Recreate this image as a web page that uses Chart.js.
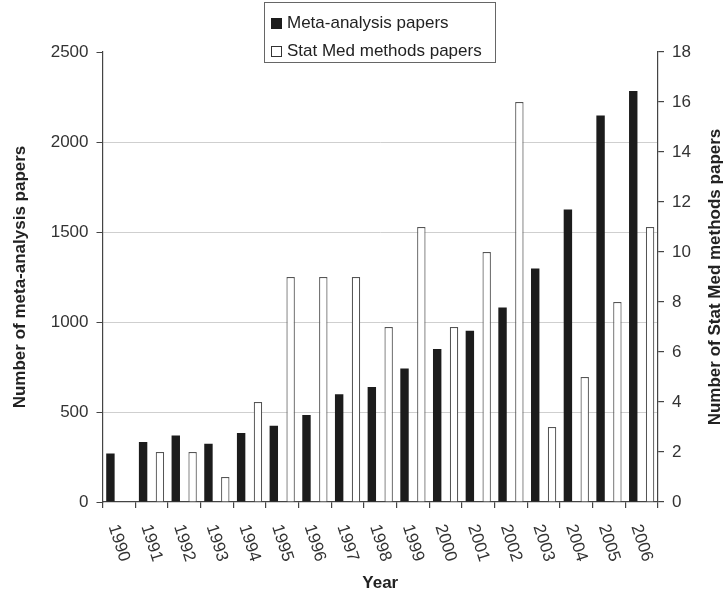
<!DOCTYPE html>
<html lang="en">
<head>
  <meta charset="utf-8">
  <title>Meta-analysis papers vs Stat Med methods papers</title>
  <script src="https://cdn.jsdelivr.net/npm/chart.js@4.4.1/dist/chart.umd.min.js"></script>
  <style>
    html, body { margin: 0; padding: 0; background: #fff; }
    #wrap { width: 725px; height: 591px; }
  </style>
</head>
<body>
  <div id="wrap"><canvas id="chart" width="725" height="591"></canvas></div>
  <script>
    const years = ['1990', '1991', '1992', '1993', '1994', '1995', '1996', '1997', '1998',
                   '1999', '2000', '2001', '2002', '2003', '2004', '2005', '2006'];
    const metaPapers = [270, 333, 370, 324, 383, 424, 483, 598, 639, 741, 850, 951, 1080, 1297, 1625, 2147, 2284];
    const statMedPapers = [0, 2, 2, 1, 4, 9, 9, 9, 7, 11, 7, 10, 16, 3, 5, 8, 11];
    const leftTicks = [0, 500, 1000, 1500, 2000, 2500];
    const rightTicks = [0, 2, 4, 6, 8, 10, 12, 14, 16, 18];

    const FONT = '"Liberation Sans", Arial, Helvetica, sans-serif';
    const AXIS = '#444';

    // x tick labels (rotated clockwise), axis titles and the boxed legend
    const overlay = {
      id: 'overlay',
      afterDraw(chart) {
        const { ctx, chartArea: a, scales: { x } } = chart;
        ctx.save();
        ctx.textAlign = 'center';
        ctx.textBaseline = 'middle';

        ctx.font = '17px ' + FONT;
        ctx.fillStyle = '#333';
        years.forEach((yr, i) => {
          ctx.save();
          ctx.translate(x.getPixelForValue(i), 543);
          ctx.rotate(72 * Math.PI / 180);
          ctx.fillText(yr, 0, 0);
          ctx.restore();
        });

        ctx.font = 'bold 17px ' + FONT;
        ctx.fillStyle = '#222';
        ctx.fillText('Year', (a.left + a.right) / 2, 583);
        const midY = (a.top + a.bottom) / 2;
        [[20, 'Number of meta-analysis papers'], [715, 'Number of Stat Med methods papers']].forEach(([cx, t]) => {
          ctx.save();
          ctx.translate(cx, midY);
          ctx.rotate(-Math.PI / 2);
          ctx.fillText(t, 0, 0);
          ctx.restore();
        });

        // legend box
        ctx.strokeStyle = '#666';
        ctx.lineWidth = 1;
        ctx.strokeRect(264.5, 2.5, 231, 60);
        ctx.font = '17px ' + FONT;
        ctx.textAlign = 'left';
        chart.data.datasets.forEach((ds, i) => {
          const cy = 23 + i * 28;
          ctx.fillStyle = ds.backgroundColor;
          ctx.fillRect(271, cy - 5, 11, 11);
          if (ds.borderWidth) {
            ctx.strokeStyle = '#333';
            ctx.strokeRect(271.5, cy - 4.5, 10, 10);
          }
          ctx.fillStyle = '#222';
          ctx.fillText(ds.label, 287, cy);
        });
        ctx.restore();
      }
    };

    new Chart(document.getElementById('chart'), {
      type: 'bar',
      data: {
        labels: years,
        datasets: [
          { label: 'Meta-analysis papers', data: metaPapers, yAxisID: 'y',
            backgroundColor: '#1c1c1c', borderWidth: 0 },
          { label: 'Stat Med methods papers', data: statMedPapers, yAxisID: 'y2',
            backgroundColor: '#ffffff', borderColor: '#555', borderWidth: 1.2 }
        ]
      },
      options: {
        responsive: false,
        animation: false,
        events: [],
        categoryPercentage: 1.03,
        barPercentage: 0.5,
        layout: { padding: { top: 52, left: 0, right: 0, bottom: 0 } },
        plugins: { legend: { display: false }, tooltip: { enabled: false } },
        scales: {
          x: {
            offset: true,
            grid: { offset: true, drawOnChartArea: false, drawTicks: true, tickLength: 6, tickColor: AXIS, lineWidth: 1.2 },
            border: { color: AXIS, width: 1.2 },
            ticks: { display: false },
            afterFit: s => { s.height = 89; }
          },
          y: {
            position: 'left',
            min: 0,
            max: 2500,
            afterBuildTicks: s => { s.ticks = leftTicks.map(v => ({ value: v })); },
            ticks: { color: '#333', font: { family: FONT, size: 17 }, padding: 8, callback: v => String(v) },
            grid: {
              color: c => (c.tick && c.tick.value > 0 && c.tick.value < 2500) ? '#cfcfcf' : 'rgba(0,0,0,0)',
              lineWidth: 1,
              tickColor: AXIS,
              tickLength: 6
            },
            border: { color: AXIS, width: 1.2 },
            afterFit: s => { s.width = 102.5; }
          },
          y2: {
            position: 'right',
            min: 0,
            max: 18,
            afterBuildTicks: s => { s.ticks = rightTicks.map(v => ({ value: v })); },
            ticks: { color: '#333', font: { family: FONT, size: 17 }, padding: 8, callback: v => String(v) },
            grid: { drawOnChartArea: false, tickColor: AXIS, tickLength: 6, lineWidth: 1.2 },
            border: { color: AXIS, width: 1.2 },
            afterFit: s => { s.width = 67; }
          }
        }
      },
      plugins: [overlay]
    });
  </script>
</body>
</html>
